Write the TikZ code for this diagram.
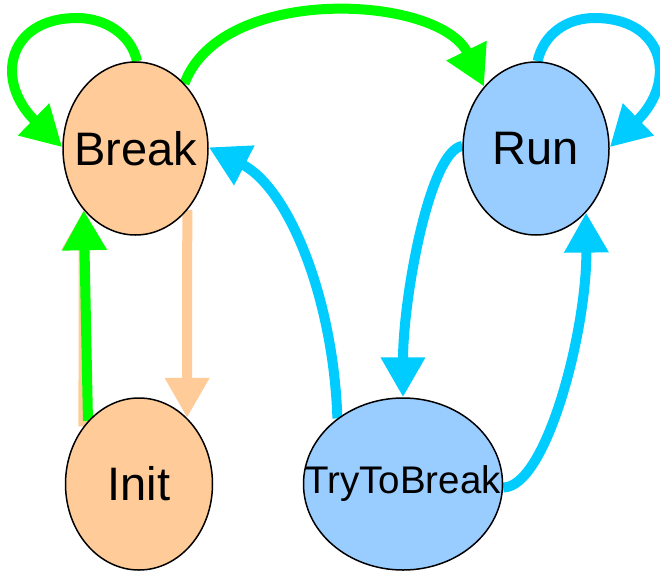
\documentclass[tikz,border=0pt]{standalone}
\usepackage{fontspec}
\setmainfont{Liberation Sans}
\usetikzlibrary{shapes.geometric,arrows.meta,backgrounds}
\definecolor{peach}{HTML}{FFCC99}
\definecolor{lblue}{HTML}{99CCFF}
\definecolor{cyanl}{HTML}{00CCFF}
\definecolor{greenl}{HTML}{00FF00}
\tikzset{
  state/.style={ellipse, draw=black, line width=1.5pt, inner sep=0pt},
  pstate/.style={state, fill=peach},
  bstate/.style={state, fill=lblue},
  big/.style={font=\fontsize{47}{47}\selectfont},
  edge/.style={line width=10pt, -{Triangle[length=40pt,width=42pt]}},
  gedge/.style={edge, draw=greenl},
  bedge/.style={edge, draw=cyanl},
  pedge/.style={edge, draw=peach},
}
\begin{document}
\begin{tikzpicture}[x=1pt,y=-1pt]
\useasboundingbox (0,0) rectangle (660,570);
\node[pstate, big, minimum width=145pt, minimum height=173pt] (break) at (135.5,148.5) {\makebox[0pt]{Break}};
\node[bstate, big, minimum width=146pt, minimum height=173pt] (run) at (536,148.5) {\makebox[0pt]{Run}};
\node[pstate, big, minimum width=147pt, minimum height=172pt] (init) at (139,484) {\makebox[0pt]{Init}};
\node[bstate, font=\fontsize{38.5}{38.5}\selectfont, minimum width=199pt, minimum height=172pt] (try) at (403,484) {\makebox[0pt]{TryToBreak}};
\coordinate (bl) at (77,18);
\coordinate (rl) at (594.5,18);
\begin{scope}[on background layer]
\draw[gedge] (break.89) .. controls +(-6,-27) and +(28,0) .. (bl) .. controls +(-70,0) and +(-68,-66) .. (break.179);
\draw[bedge] (run.89) .. controls +(6,-27) and +(-28,0) .. (rl) .. controls +(70,0) and +(68,-66) .. (run.1);
\draw[gedge] (break.53) .. controls +(37,-100) and +(-45,-92) .. (run.130);
\draw[bedge] (run.178) .. controls +(-33,5) and +(0,-98) .. (try.90);
\draw[bedge] (try.-2) .. controls +(43,0) and +(1,118) .. (run.-52);
\draw[bedge] (try.135) .. controls +(-4,-120) and +(80,41) .. (break.1);
\draw[pedge] (break.-50) -- (init.54);
\draw[pedge] (init.134) -- (break.-130);
\draw[gedge] (init.129) -- (break.-130);
\end{scope}
\end{tikzpicture}
\end{document}
